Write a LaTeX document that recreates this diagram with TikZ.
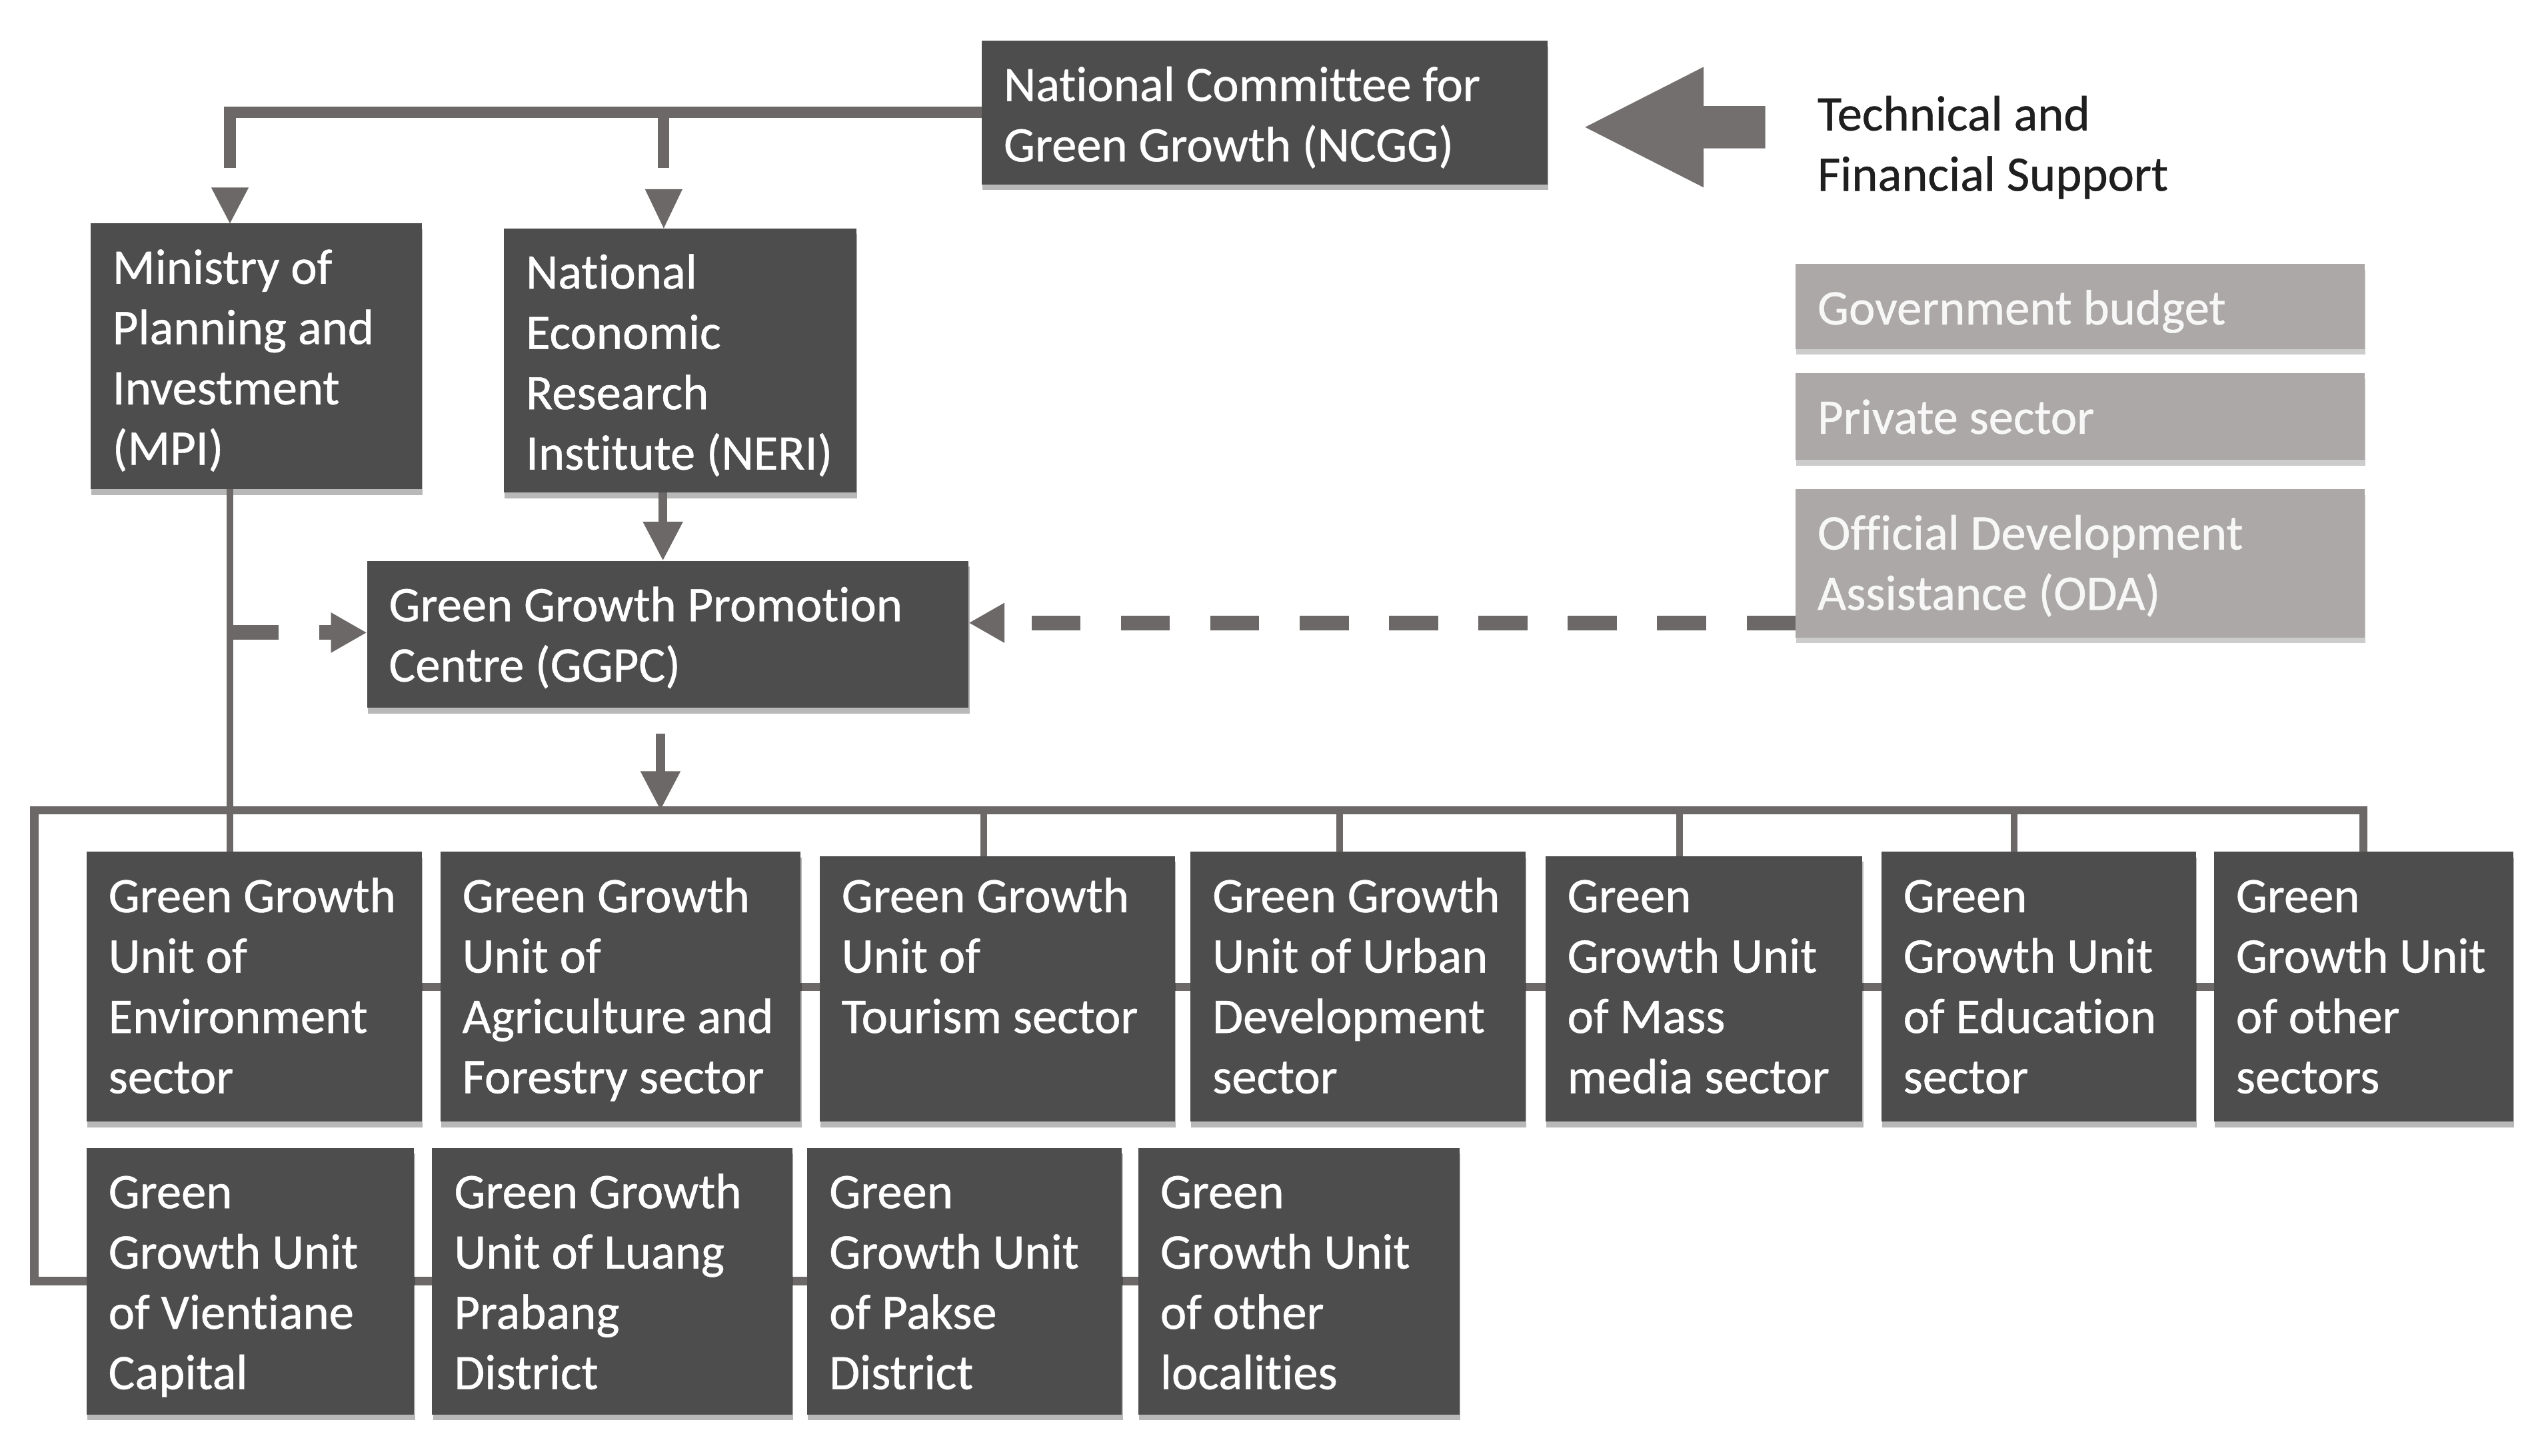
\documentclass[tikz,border=0pt]{standalone}
\usepackage{fontspec}
\setmainfont{Carlito}[Ligatures=NoCommon, UprightFeatures={FakeBold=0.6}]
\usetikzlibrary{calc,arrows.meta,shadows,backgrounds}
\definecolor{dboxc}{HTML}{4D4D4D}
\definecolor{lboxc}{HTML}{ACA8A8}
\definecolor{connc}{HTML}{6D6868}
\newcommand{\bl}[1]{\hbox to\hsize{\hskip13.5pt #1\hfil}}
\newcommand{\gbox}[7]{\node[#2] (#1) at (#3,#4) {\vbox to #6pt{\hsize=#5pt\baselineskip=37pt\prevdepth=0pt #7\vfil}};}
\tikzset{
  basebox/.style={anchor=north west, inner sep=0pt, outer sep=0pt, font=\fontsize{30.5}{37}\selectfont, text=white},
  darkb/.style={basebox, fill=dboxc, drop shadow={shadow xshift=0.5pt, shadow yshift=-3.5pt, opacity=0.28, fill=black}},
  lightb/.style={basebox, fill=lboxc, text=white!97!black, drop shadow={shadow xshift=0.5pt, shadow yshift=-3.5pt, opacity=0.2, fill=black}},
  plainb/.style={basebox, text=black!88},
  thickc/.style={draw=connc, line width=7pt, line join=miter},
  medc/.style={draw=connc, line width=5.5pt, -{Triangle[width=23pt,length=24pt]}},
  thinc/.style={draw=connc, line width=4pt},
  busc/.style={draw=connc, line width=5pt, line join=miter},
  dashc/.style={draw=connc, line width=9pt, dash pattern=on 30pt off 24.8pt, -{Triangle[width=23pt,length=22pt]}},
}
\begin{document}
\begin{tikzpicture}[x=1pt,y=-1pt]
\useasboundingbox (0,0) rectangle (1560,892.6);

% top level
\gbox{ncgg}{darkb}{602}{25}{347}{88}{\bl{National Committee for}\bl{Green Growth (NCGG)}}
\gbox{tfs}{plainb}{1101}{43}{290}{80}{\bl{Technical and}\bl{Financial Support}}
\gbox{gov}{lightb}{1101}{162}{349}{52}{\bl{Government budget}}
\gbox{priv}{lightb}{1101}{229}{349}{53}{\bl{Private sector}}
\gbox{oda}{lightb}{1101}{300}{349}{91}{\bl{Official Development}\bl{Assistance (ODA)}}
\gbox{mpi}{darkb}{55.5}{137}{203}{163}{\bl{Ministry of}\bl{Planning and}\bl{Investment}\bl{(MPI)}}
\gbox{neri}{darkb}{309}{140}{216}{162}{\bl{National}\bl{Economic}\bl{Research}\bl{Institute (NERI)}}
\gbox{ggpc}{darkb}{225}{344}{369}{90}{\bl{Green Growth Promotion}\bl{Centre (GGPC)}}

% sector row
\gbox{env}{darkb}{53}{522.5}{205.5}{165.5}{\bl{Green Growth}\bl{Unit of}\bl{Environment}\bl{sector}}
\gbox{agri}{darkb}{270}{522.5}{221}{165.5}{\bl{Green Growth}\bl{Unit of}\bl{Agriculture and}\bl{Forestry sector}}
\gbox{tour}{darkb}{502.6}{525}{218}{163}{\vskip-2.5pt\bl{Green Growth}\bl{Unit of}\bl{Tourism sector}}
\gbox{urban}{darkb}{730}{522.5}{205.5}{165.5}{\bl{Green Growth}\bl{Unit of Urban}\bl{Development}\bl{sector}}
\gbox{mass}{darkb}{947.6}{525}{194.4}{163}{\vskip-2.5pt\bl{Green}\bl{Growth Unit}\bl{of Mass}\bl{media sector}}
\gbox{edu}{darkb}{1153.6}{522.5}{193}{165.5}{\bl{Green}\bl{Growth Unit}\bl{of Education}\bl{sector}}
\gbox{osec}{darkb}{1357.6}{522.5}{183.4}{165.5}{\bl{Green}\bl{Growth Unit}\bl{of other}\bl{sectors}}

% locality row
\gbox{vien}{darkb}{53}{704}{201}{163.5}{\bl{Green}\bl{Growth Unit}\bl{of Vientiane}\bl{Capital}}
\gbox{luang}{darkb}{265}{704}{221}{163.5}{\bl{Green Growth}\bl{Unit of Luang}\bl{Prabang}\bl{District}}
\gbox{pakse}{darkb}{495}{704}{193}{163.5}{\bl{Green}\bl{Growth Unit}\bl{of Pakse}\bl{District}}
\gbox{oloc}{darkb}{698}{704}{197}{163.5}{\bl{Green}\bl{Growth Unit}\bl{of other}\bl{localities}}

\begin{scope}[on background layer]
  \fill[white] (0,0) rectangle (1560,892.6);
  \draw[busc] (env.center) -- (osec.center);
  \draw[busc] (vien.center) -- (oloc.center);
\end{scope}

% big support arrow
\fill[connc!95!white] (972,78) -- (1044.7,41) -- (1044.7,65) -- (1082.5,65) -- (1082.5,91) -- (1044.7,91) -- (1044.7,115) -- cycle;

% NCGG to MPI and NERI
\coordinate (mpiIn) at ($(mpi.north west)+(85.5,0)$);
\coordinate (neriIn) at ($(neri.north west)+(98,0)$);
\draw[thickc] (ncgg.west) -| ($(mpiIn)+(0,-34)$);
\draw[thickc] (neriIn |- ncgg.west) -- ($(neriIn)+(0,-37)$);
\fill[connc] (mpiIn) -- ++(-11.5,-22) -- ++(23,0) -- cycle;
\fill[connc] (neriIn) -- ++(-11.5,-24) -- ++(23,0) -- cycle;

% NERI to GGPC
\coordinate (neriOut) at ($(neri.south west)+(97.5,0)$);
\draw[medc] (neriOut) -- (neriOut |- ggpc.north);

% GGPC to bus
\coordinate (busL) at (21,497);
\coordinate (ggOut) at ($(ggpc.south west)+(180,16)$);
\draw[medc] (ggOut) -- (ggOut |- busL);

% bus
\draw[busc] (vien.west) -| (busL) -| (osec.north);
\coordinate (tb) at ($(tour.north west)+(100.5,0)$);
\coordinate (ub) at ($(urban.north west)+(91.4,0)$);
\coordinate (mb) at ($(mass.north west)+(82.4,0)$);
\coordinate (eb) at ($(edu.north west)+(81.4,0)$);
\draw[thinc] (tb) -- (tb |- busL);
\draw[thinc] (ub) -- (ub |- busL);
\draw[thinc] (mb) -- (mb |- busL);
\draw[thinc] (eb) -- (eb |- busL);

% MPI vertical
\draw[thinc] ($(mpi.south west)+(85.5,0)$) -- ($(env.north west)+(88,0)$);

% dashed arrows
\coordinate (odaTip) at ($(ggpc.east)+(0,-7)$);
\draw[dashc] (oda.west |- odaTip) -- (odaTip);
\coordinate (mpiDash) at ($(mpi.south west)+(85.5,88)$);
\draw[dashc] (mpiDash) -- (mpiDash -| ggpc.west);
\end{tikzpicture}
\end{document}
